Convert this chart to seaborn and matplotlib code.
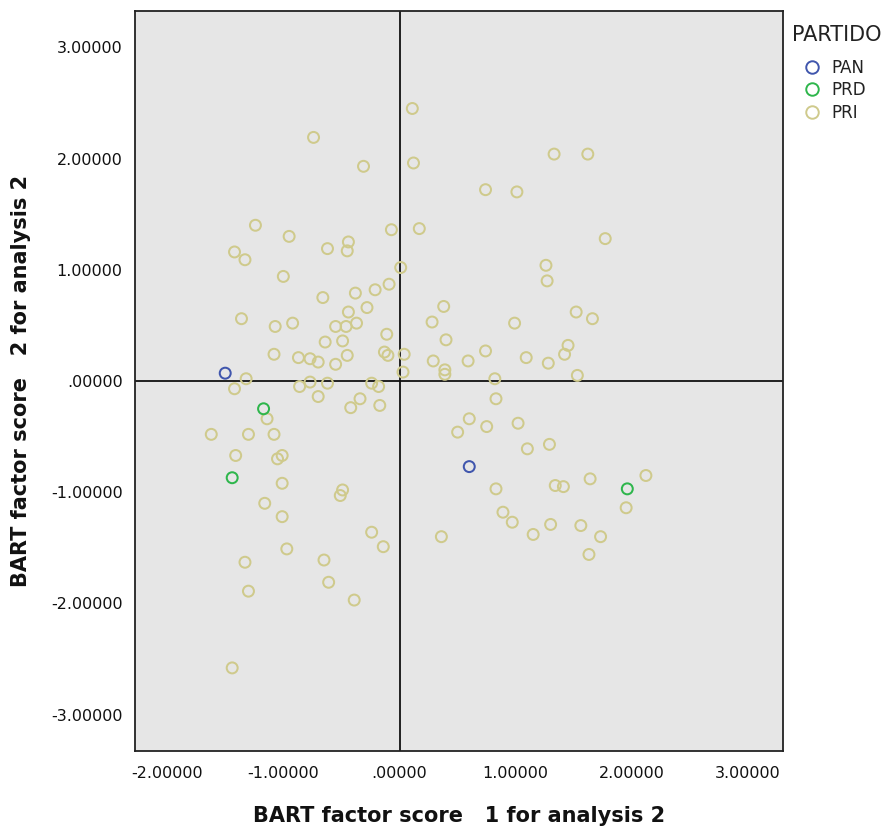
import matplotlib
matplotlib.use("Agg")
import pandas as pd
import matplotlib.pyplot as plt
import seaborn as sns
from matplotlib.lines import Line2D
from matplotlib.ticker import FuncFormatter, MultipleLocator

# ---------- DATA ----------
PARTIES = ["PAN", "PRD", "PRI"]
COLORS = ["#4056ad", "#2eb64c", "#cfca8c"]

pan_x = [-1.50, 0.60]
pan_y = [0.07, -0.77]

prd_x = [-1.17, -1.44, 1.96]
prd_y = [-0.25, -0.87, -0.97]

pri_x = [-0.74, -0.31, 0.11, 0.12, 1.33, 1.62, 0.74, 1.01, -1.24, -0.95,
         -1.42, -1.33, -0.62, -0.44, -0.45, -0.07, 0.01, -1.00, -0.66, -0.38,
         -0.21, -0.09, -0.28, -0.44, -1.36, -1.07, -0.92, -0.55, -0.46, -0.37,
         -0.11, -0.64, -0.49, -1.08, -0.87, -0.77, -0.70, -0.55, -0.45, -0.13,
         -0.10, 0.04, 0.03, -1.32, -1.42, -0.86, -0.77, -0.62, -0.24, -0.18,
         -0.70, -0.34, -0.42, -0.17, -1.14, -1.62, -1.30, -1.08, -1.41, -1.05,
         -1.01, -1.01, -0.49, -0.51, -1.16, -1.01, -0.24, -0.14, -0.97, -1.33,
         -0.65, -0.61, -1.30, -0.39, -1.44,
         0.17, 1.77, 1.26, 1.27, 0.38, 0.28, 0.99, 1.52, 1.66, 0.40,
         0.29, 0.39, 0.39, 0.59, 0.74, 1.09, 1.28, 1.45, 1.42, 0.82,
         1.53, 0.83, 0.60, 0.75, 0.50, 1.02, 1.29, 1.10, 0.83, 1.34,
         1.41, 1.64, 2.12, 1.95, 0.89, 0.97, 1.30, 1.56, 1.73, 1.15,
         0.36, 1.63]
pri_y = [2.19, 1.93, 2.45, 1.96, 2.04, 2.04, 1.72, 1.70, 1.40, 1.30,
         1.16, 1.09, 1.19, 1.25, 1.17, 1.36, 1.02, 0.94, 0.75, 0.79,
         0.82, 0.87, 0.66, 0.62, 0.56, 0.49, 0.52, 0.49, 0.49, 0.52,
         0.42, 0.35, 0.36, 0.24, 0.21, 0.20, 0.17, 0.15, 0.23, 0.26,
         0.23, 0.24, 0.08, 0.02, -0.07, -0.05, -0.01, -0.02, -0.02, -0.05,
         -0.14, -0.16, -0.24, -0.22, -0.34, -0.48, -0.48, -0.48, -0.67, -0.70,
         -0.67, -0.92, -0.98, -1.03, -1.10, -1.22, -1.36, -1.49, -1.51, -1.63,
         -1.61, -1.81, -1.89, -1.97, -2.58,
         1.37, 1.28, 1.04, 0.90, 0.67, 0.53, 0.52, 0.62, 0.56, 0.37,
         0.18, 0.10, 0.06, 0.18, 0.27, 0.21, 0.16, 0.32, 0.24, 0.02,
         0.05, -0.16, -0.34, -0.41, -0.46, -0.38, -0.57, -0.61, -0.97, -0.94,
         -0.95, -0.88, -0.85, -1.14, -1.18, -1.27, -1.29, -1.30, -1.40, -1.38,
         -1.40, -1.56]

# PRI first so the PAN / PRD circles are drawn on top
df = pd.concat([
    pd.DataFrame({"x": pri_x, "y": pri_y, "partido": "PRI"}),
    pd.DataFrame({"x": pan_x, "y": pan_y, "partido": "PAN"}),
    pd.DataFrame({"x": prd_x, "y": prd_y, "partido": "PRD"}),
], ignore_index=True)

# ---------- PLOT ----------
sns.set_style("white")
plt.rcParams["font.family"] = ["DejaVu Sans"]

fig = plt.figure(figsize=(8.89, 8.30), dpi=100)
ax = fig.add_axes([0.1519, 0.0952, 0.7289, 0.8916])
ax.set_facecolor("#e6e6e6")

sns.scatterplot(data=df, x="x", y="y", hue="partido", hue_order=PARTIES,
                palette=COLORS, s=62, linewidth=1.45, legend=False, ax=ax,
                zorder=3)
pts = ax.collections[0]
pts.set_edgecolors(pts.get_facecolors())
pts.set_facecolors("none")

ax.axhline(0, color="#111111", lw=1.3, zorder=2)
ax.axvline(0, color="#111111", lw=1.3, zorder=2)

ax.set_xlim(-2.276, 3.30)
ax.set_ylim(-3.327, 3.327)
ax.xaxis.set_major_locator(MultipleLocator(1))
ax.yaxis.set_major_locator(MultipleLocator(1))


def fmt(v, pos):
    s = f"{v:.5f}"
    if s in ("0.00000", "-0.00000"):
        return ".00000"
    return s


ax.xaxis.set_major_formatter(FuncFormatter(fmt))
ax.yaxis.set_major_formatter(FuncFormatter(fmt))

for sp in ax.spines.values():
    sp.set_color("#222222")
    sp.set_linewidth(1.3)

ax.tick_params(axis="both", direction="out", length=8, width=1.2,
               color="#222222", labelsize=11.5, labelcolor="#111111")
ax.tick_params(axis="x", pad=3)
ax.tick_params(axis="y", pad=1)

ax.set_xlabel("BART factor score   1 for analysis 2", fontsize=15,
              fontweight="bold", color="#111111")
ax.set_ylabel("BART factor score   2 for analysis 2", fontsize=15,
              fontweight="bold", color="#111111")
ax.xaxis.set_label_coords(0.5, -0.074)
ax.yaxis.set_label_coords(-0.160, 0.5)

# legend: title drawn separately to get SPSS-like spacing
fig.text(792 / 889, 1 - 35 / 830, "PARTIDO", fontsize=15, color="#222222",
         ha="left", va="center")
handles = [Line2D([], [], marker="o", ls="", mfc="none", mec=c, ms=9, mew=1.4)
           for c in COLORS]
leg = fig.legend(handles, PARTIES, loc="upper left",
                 bbox_to_anchor=(0.889, 1 - 59 / 830), frameon=False,
                 fontsize=12, handlelength=2.6, handletextpad=-0.15,
                 labelspacing=0.26, borderpad=0, borderaxespad=0)
for t in leg.get_texts():
    t.set_color("#222222")

plt.savefig("out.png", dpi=100)
plt.close()
